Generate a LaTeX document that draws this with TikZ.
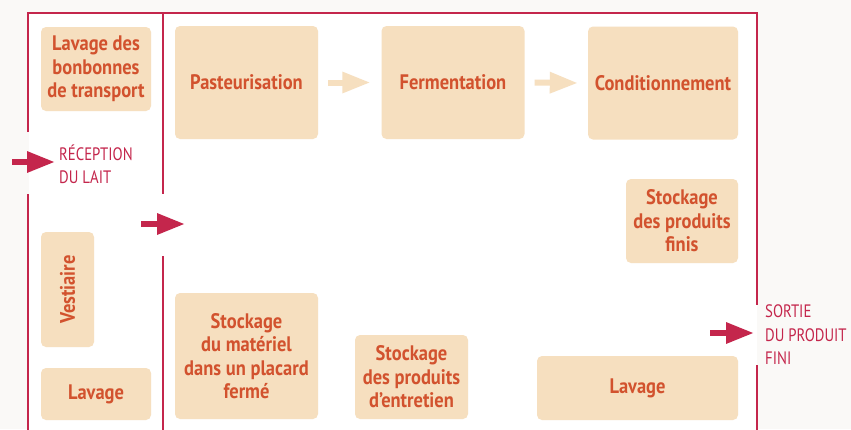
\documentclass[tikz,border=0pt]{standalone}
\usepackage{fontspec}
\usetikzlibrary{arrows.meta}
\newfontfamily\roomfont[FakeStretch=0.88]{PT Sans}
\newfontfamily\doorfont[FakeStretch=0.82]{PT Sans}
\definecolor{paper}{HTML}{FAF9F7}
\definecolor{wallred}{HTML}{C4264C}
\definecolor{zonefill}{HTML}{F6DFBF}
\definecolor{zonetext}{HTML}{D2522E}
\tikzset{
  x=1pt, y=-1pt,
  wall/.style={draw=wallred, line width=2.4pt},
  zonefont/.style={font=\roomfont\bfseries\fontsize{21}{23.5}\selectfont},
  zone/.style={fill=zonefill, rounded corners=5pt, inner sep=0pt, align=center,
    text=zonetext, zonefont},
  doorlabel/.style={anchor=west, inner sep=0pt, align=left, text=wallred,
    font=\doorfont\fontsize{18}{23.5}\selectfont},
  flowred/.style={draw=wallred, line width=6pt,
    -{Triangle[length=28pt,width=20pt]}},
  flowlight/.style={draw=zonefill, line width=6pt,
    -{Triangle[length=28pt,width=20pt]}}
}
\begin{document}
\begin{tikzpicture}
  \useasboundingbox (0,0) rectangle (851,429);
  \fill[paper] (0,0) rectangle (851,429);
  \fill[white] (29,13) rectangle (757,429);

  % walls of the room
  \draw[wall] (28,132) -- (28,13) -- (757,13) -- (757,305);
  \draw[wall] (28,194) -- (28,431);
  \draw[wall] (163,13) -- (163,194);
  \draw[wall] (163,256) -- (163,431);
  \draw[wall] (757,365) -- (757,431);

  % zones
  \node[zone, minimum width=110pt, minimum height=84pt] (bonb) at (96,69)
    {Lavage des\\bonbonnes\\de transport};
  \node[zone, minimum width=143pt, minimum height=113pt] (past) at (246.5,82.5)
    {Pasteurisation};
  \node[zone, minimum width=143pt, minimum height=113pt] (ferm) at (453,82.5)
    {Fermentation};
  \node[zone, minimum width=150pt, minimum height=113pt] (cond) at (663,83)
    {Conditionnement};
  \node[zone, minimum width=112pt, minimum height=84pt] (finis) at (682,221)
    {Stockage\\des produits\\finis};
  \node[zone, minimum width=53pt, minimum height=115pt] (vest) at (67.5,289.5)
    {};
  \node[rotate=90, text=zonetext, zonefont, inner sep=0pt] (vestlabel)
    at (vest.center) {Vestiaire};
  \node[zone, minimum width=110pt, minimum height=52pt] (lavg) at (96,394)
    {Lavage};
  \node[zone, minimum width=143pt, minimum height=126pt] (mat) at (246.5,356)
    {Stockage\\du matériel\\dans un placard\\fermé};
  \node[zone, minimum width=113pt, minimum height=84pt] (entr) at (411.5,377)
    {Stockage\\des produits\\d’entretien};
  \node[zone, minimum width=201pt, minimum height=64pt] (lavd) at (637.5,388)
    {Lavage};

  % doors
  \node[doorlabel] (recep) at (59,164) {RÉCEPTION\\DU LAIT};
  \node[doorlabel] (sortie) at (765,335) {SORTIE\\DU PRODUIT\\FINI};

  \coordinate (inA) at (12,162);
  \coordinate (inB) at (55,162);
  \coordinate (midA) at (141,224);
  \coordinate (midB) at (185,224);
  \coordinate (outA) at (710,333);
  \coordinate (outB) at (754,333);
  \draw[flowred] (inA) -- (inB);
  \draw[flowred] (midA) -- (midB);
  \draw[flowred] (outA) -- (outB);

  % process flow
  \draw[flowlight] ([xshift=10pt]past.east) -- ([xshift=-11pt]ferm.west);
  \draw[flowlight] ([xshift=10pt]ferm.east) -- ([xshift=-10pt]cond.west);
\end{tikzpicture}
\end{document}
